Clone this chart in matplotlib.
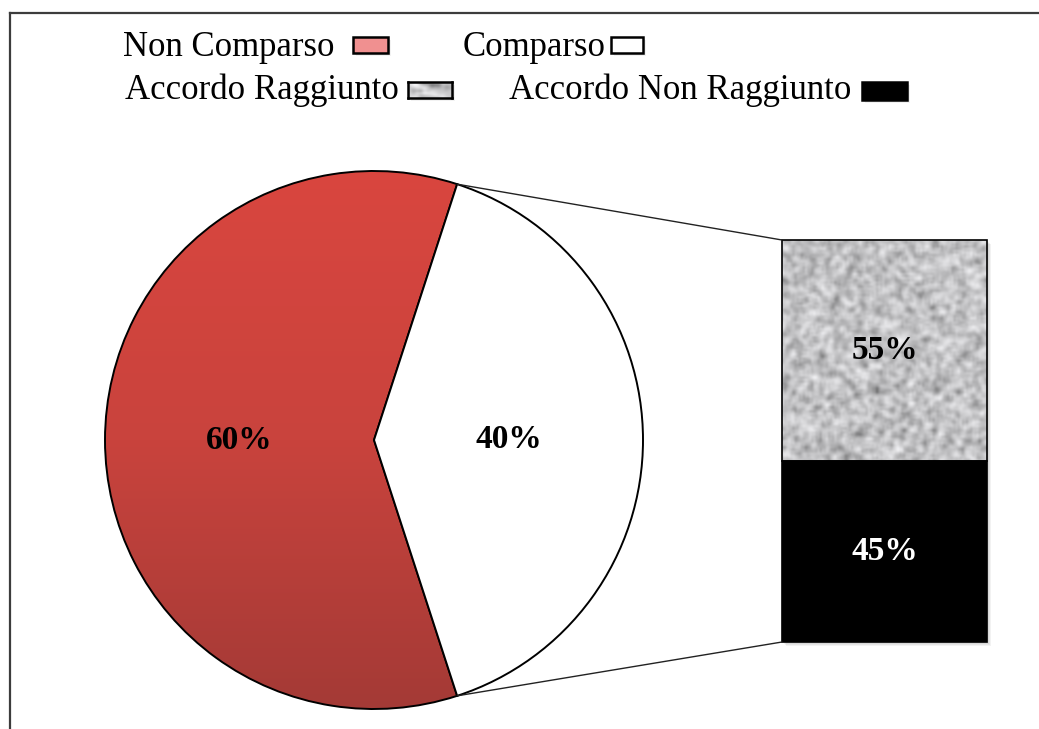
import numpy as np
import matplotlib.pyplot as plt
from matplotlib.patches import Rectangle, ConnectionPatch
from matplotlib.lines import Line2D
from matplotlib.colors import LinearSegmentedColormap

W, H = 1039, 729

pie_labels = ['Non Comparso', 'Comparso']
pie_values = [60, 40]
bar_labels = ['Accordo Raggiunto', 'Accordo Non Raggiunto']
bar_values = [55, 45]

plt.rcParams['font.family'] = ['Liberation Serif', 'DejaVu Serif']


def px_box(x0, y0, x1, y1):
    # pixel box (top-left origin) -> figure fraction [l, b, w, h]
    return [x0 / W, 1 - y1 / H, (x1 - x0) / W, (y1 - y0) / H]


def grain(shape, seed):
    # soft grey speckle used as fill texture
    rng = np.random.default_rng(seed)
    n = rng.random(shape)
    s = np.zeros_like(n)
    for dy in (-1, 0, 1):
        for dx in (-1, 0, 1):
            s += np.roll(np.roll(n, dy, 0), dx, 1)
    s = (s - s.min()) / (s.max() - s.min())
    g = 0.40 + 0.58 * s ** 0.65
    return np.dstack([g, g, g * 1.01]).clip(0, 1)


def shadow(x0, y0, x1, y1, steps=4):
    for k in range(1, steps + 1):
        fig.add_artist(Rectangle(((x0 + k) / W, 1 - (y1 + k) / H), (x1 - x0) / W, (y1 - y0) / H,
                                 transform=fig.transFigure, color='black', alpha=0.05,
                                 lw=0, zorder=-1))


fig = plt.figure(figsize=(W / 100, H / 100), dpi=100)

# outer frame (only left and top edges fall inside the canvas)
fig.add_artist(Line2D([10 / W, 10 / W], [0, 1 - 13 / H], color='#3c3c3c', lw=1.6,
                      transform=fig.transFigure))
fig.add_artist(Line2D([10 / W, 1], [1 - 13 / H, 1 - 13 / H], color='#3c3c3c', lw=1.6,
                      transform=fig.transFigure))

# pie
ax_pie = fig.add_axes(px_box(105, 171, 643, 709))
wedges, texts, autotexts = ax_pie.pie(
    pie_values, startangle=72, colors=['none', 'white'],
    autopct=lambda p: f'{p:.0f}%', pctdistance=0.5,
    wedgeprops=dict(edgecolor='black', linewidth=1.4),
    textprops=dict(fontsize=24, fontweight='bold', color='black'))
for w in wedges:
    w.set_clip_on(False)
reds = LinearSegmentedColormap.from_list('reds', ['#d9463f', '#c9433d', '#a43a36'])
grad = np.linspace(0, 1, 256)[:, None]
im = ax_pie.imshow(grad, cmap=reds, extent=(-1, 1, -1, 1), origin='upper',
                   aspect='auto', zorder=0)
im.set_clip_path(wedges[0])
ax_pie.set_xlim(-1, 1)
ax_pie.set_ylim(-1, 1)
ax_pie.set_aspect('equal')
ax_pie.axis('off')

# stacked bar for the "Comparso" share
shadow(782, 240, 987, 642)
ax_bar = fig.add_axes(px_box(782, 240, 987, 642))
b_low = ax_bar.bar(0, bar_values[1], width=1, color='black', edgecolor='black', lw=1.2)
b_up = ax_bar.bar(0, bar_values[0], bottom=bar_values[1], width=1, color='none',
                  edgecolor='black', lw=1.2)
for p in list(b_low) + list(b_up):
    p.set_clip_on(False)
tex = ax_bar.imshow(grain((105, 98), 11), extent=(-0.5, 0.5, bar_values[1], 100),
                    aspect='auto', interpolation='bicubic', zorder=0)
tex.set_clip_path(b_up.patches[0])
ax_bar.bar_label(b_up, labels=[f'{bar_values[0]}%'], label_type='center',
                 fontsize=24, fontweight='bold', color='black')
ax_bar.bar_label(b_low, labels=[f'{bar_values[1]}%'], label_type='center',
                 fontsize=24, fontweight='bold', color='white')
ax_bar.set_xlim(-0.5, 0.5)
ax_bar.set_ylim(0, 100)
ax_bar.axis('off')

# connector lines from the white slice to the bar corners
w = wedges[1]
for ang, ytop in ((w.theta2, 100), (w.theta1, 0)):
    a = np.radians(ang)
    con = ConnectionPatch(xyA=(np.cos(a), np.sin(a)), coordsA=ax_pie.transData,
                          xyB=(-0.5, ytop), coordsB=ax_bar.transData,
                          color='#222222', lw=1.0)
    fig.add_artist(con)

# legend: text followed by its swatch
fs = 25
legend_rows = [
    (pie_labels[0], 123, 'left', 56, (353, 37, 388, 53), '#f09090'),
    (pie_labels[1], 606, 'right', 56, (611, 37, 643, 53), 'white'),
    (bar_labels[0], 125, 'left', 99, (408, 82, 452, 98), 'grain'),
    (bar_labels[1], 509, 'left', 99, (862, 82, 907, 100), 'black'),
]
for label, tx, ha, ty, (x0, y0, x1, y1), face in legend_rows:
    fig.text(tx / W, 1 - ty / H, label, fontsize=fs, ha=ha, va='baseline')
    shadow(x0, y0, x1, y1, steps=3)
    if face == 'grain':
        sw = fig.add_axes(px_box(x0, y0, x1, y1))
        sw.imshow(grain((8, 12), 5), aspect='auto', interpolation='bicubic')
        sw.set_xticks([])
        sw.set_yticks([])
        for sp in sw.spines.values():
            sp.set_linewidth(1.8)
    else:
        fig.add_artist(Rectangle((x0 / W, 1 - y1 / H), (x1 - x0) / W, (y1 - y0) / H,
                                 transform=fig.transFigure, facecolor=face,
                                 edgecolor='black', lw=1.8))

fig.savefig('out.png', dpi=100, facecolor='white')
